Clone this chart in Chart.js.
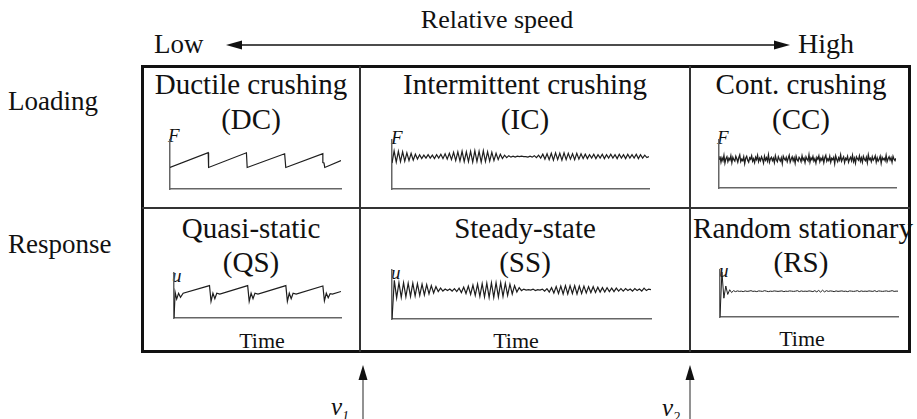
<!DOCTYPE html>
<html>
<head>
<meta charset="utf-8">
<title>Ice-induced vibration regimes</title>
<script src="https://cdn.jsdelivr.net/npm/chart.js@4.4.1/dist/chart.umd.min.js"></script>
<style>
  body{margin:0;background:#fff;}
  #page{position:relative;width:917px;height:419px;overflow:hidden;font-family:"Liberation Serif","Times New Roman",serif;color:#111;}
  .lbl{position:absolute;white-space:nowrap;line-height:1;}
  .c{transform:translate(-50%,-50%);}
  .m{transform:translateY(-50%);}
  .title{font-size:29px;}
  .time{font-size:22px;}
  .ax{font-style:italic;font-size:19px;}
  .box{position:absolute;left:141px;top:65px;width:770px;height:288px;border:3px solid #111;box-sizing:border-box;}
  .vl{position:absolute;top:66px;height:286px;width:2px;background:#333;}
  .hl{position:absolute;left:142px;width:768px;height:2px;background:#333;}
  canvas{position:absolute;}
  svg{position:absolute;left:0;top:0;}
</style>
</head>
<body>
<div id="page">
  <div class="lbl c" style="left:497px;top:20px;font-size:26px;">Relative speed</div>
  <div class="lbl m" style="left:154px;top:44px;font-size:27px;">Low</div>
  <div class="lbl m" style="left:798px;top:44px;font-size:28px;">High</div>
  <div class="lbl m" style="left:8px;top:101px;font-size:27px;">Loading</div>
  <div class="lbl m" style="left:8px;top:244px;font-size:27px;">Response</div>

  <div class="box"></div>
  <div class="vl" style="left:359px;"></div>
  <div class="vl" style="left:689px;"></div>
  <div class="hl" style="top:207px;"></div>

  <div class="lbl c title" style="left:251px;top:84px;">Ductile crushing</div>
  <div class="lbl c title" style="left:251px;top:119px;">(DC)</div>
  <div class="lbl c title" style="left:525px;top:84px;">Intermittent crushing</div>
  <div class="lbl c title" style="left:525px;top:119px;">(IC)</div>
  <div class="lbl c title" style="left:801px;top:84px;">Cont. crushing</div>
  <div class="lbl c title" style="left:801px;top:119px;">(CC)</div>
  <div class="lbl c title" style="left:251px;top:228px;">Quasi-static</div>
  <div class="lbl c title" style="left:251px;top:262px;">(QS)</div>
  <div class="lbl c title" style="left:525px;top:228px;">Steady-state</div>
  <div class="lbl c title" style="left:525px;top:262px;">(SS)</div>
  <div class="lbl c title" style="left:803px;top:228px;">Random stationary</div>
  <div class="lbl c title" style="left:801px;top:262px;">(RS)</div>

  <div class="lbl m ax" style="left:168px;top:135px;">F</div>
  <div class="lbl m ax" style="left:391px;top:137px;">F</div>
  <div class="lbl m ax" style="left:717px;top:137px;">F</div>
  <div class="lbl m ax" style="left:172px;top:275px;">u</div>
  <div class="lbl m ax" style="left:391px;top:272px;">u</div>
  <div class="lbl m ax" style="left:719px;top:270px;">u</div>

  <div class="lbl c time" style="left:262px;top:341px;">Time</div>
  <div class="lbl c time" style="left:516px;top:341px;">Time</div>
  <div class="lbl c time" style="left:802px;top:339px;">Time</div>

  <div class="lbl m" style="left:331px;top:409px;font-size:25px;font-style:italic;">v<sub style="font-size:14px;">1</sub></div>
  <div class="lbl m" style="left:662px;top:410px;font-size:25px;font-style:italic;">v<sub style="font-size:14px;">2</sub></div>

  <svg width="917" height="419">
    <line x1="238" y1="45" x2="778" y2="45" stroke="#111" stroke-width="1.6"/>
    <polygon points="226,45 242,40.5 242,49.5" fill="#111"/>
    <polygon points="790,45 774,40.5 774,49.5" fill="#111"/>
    <line x1="363" y1="378" x2="363" y2="419" stroke="#777" stroke-width="1.6"/>
    <polygon points="363,365 358.5,380 367.5,380" fill="#111"/>
    <line x1="690" y1="378" x2="690" y2="419" stroke="#777" stroke-width="1.6"/>
    <polygon points="690,365 685.5,380 694.5,380" fill="#111"/>
  </svg>

  <canvas id="dc"></canvas>
  <canvas id="ic"></canvas>
  <canvas id="cc"></canvas>
  <canvas id="qs"></canvas>
  <canvas id="ss"></canvas>
  <canvas id="rs"></canvas>
</div>

<script>
// ---- values (time in cycles / samples, amplitude as fraction of axis height) ----

// Ductile crushing: sawtooth force
const dcTime  = [0, 1.0, 1.01, 2.0, 2.02, 3.0, 3.03, 4.0, 4.0, 4.03, 4.05, 4.475];
const dcForce = [0.44, 0.74, 0.44, 0.74, 0.44, 0.72, 0.44, 0.72, 0.54, 0.53, 0.44, 0.58];

// Quasi-static: displacement follows the sawtooth, ringing after each drop
const qsTime = [0, 0.03, 0.07, 0.12, 0.17, 0.24, 0.93, 0.97, 1.02, 1.07, 1.12, 1.2,
  1.93, 1.97, 2.02, 2.07, 2.12, 2.2, 2.93, 2.97, 3.02, 3.07, 3.12, 3.2,
  3.9, 3.94, 3.99, 4.04, 4.09, 4.15, 4.375];
const qsDisp = [0, 0.57, 0.42, 0.55, 0.46, 0.55, 0.72, 0.37, 0.55, 0.43, 0.55, 0.53,
  0.72, 0.37, 0.55, 0.43, 0.55, 0.53, 0.72, 0.37, 0.55, 0.43, 0.55, 0.53,
  0.71, 0.38, 0.55, 0.45, 0.54, 0.53, 0.59];

// Intermittent crushing: one sample per half period
const icForce = [0.53,
  0.78,0.55, 0.77,0.56, 0.76,0.57, 0.74,0.58, 0.73,0.59,
  0.71,0.61, 0.70,0.62, 0.69,0.63, 0.70,0.63, 0.69,0.62,
  0.70,0.63, 0.71,0.62, 0.72,0.61, 0.73,0.60, 0.75,0.58,
  0.76,0.57, 0.77,0.56, 0.76,0.56, 0.77,0.55, 0.78,0.56,
  0.77,0.55, 0.78,0.56, 0.76,0.57, 0.75,0.58, 0.73,0.60,
  0.71,0.62, 0.69,0.64, 0.68,0.65, 0.67,0.65, 0.67,0.66,
  0.67,0.66, 0.66,0.65, 0.67,0.65, 0.68,0.64, 0.69,0.63,
  0.71,0.61, 0.72,0.60, 0.73,0.59, 0.74,0.60, 0.73,0.59,
  0.74,0.60, 0.73,0.61, 0.72,0.60, 0.73,0.61, 0.72,0.62,
  0.71,0.62, 0.70,0.63, 0.71,0.62, 0.70,0.63, 0.71,0.62,
  0.70,0.63, 0.71,0.63, 0.70,0.62, 0.71,0.63, 0.70,0.62,
  0.71,0.63, 0.70,0.63, 0.71,0.62, 0.70,0.63, 0.69,0.64,
  0.66];

// Steady-state response
const ssDisp = [0, 0.79,
  0.43,0.74, 0.44,0.74, 0.45,0.73, 0.46,0.73, 0.47,0.72,
  0.48,0.71, 0.49,0.70, 0.51,0.68, 0.53,0.66, 0.56,0.63,
  0.57,0.61, 0.58,0.61, 0.57,0.62, 0.56,0.63, 0.54,0.65,
  0.52,0.67, 0.50,0.69, 0.48,0.71, 0.46,0.72, 0.45,0.73,
  0.44,0.74, 0.44,0.74, 0.45,0.74, 0.46,0.73, 0.48,0.71,
  0.51,0.68, 0.55,0.64, 0.58,0.61, 0.59,0.60, 0.59,0.61,
  0.58,0.60, 0.59,0.61, 0.57,0.62, 0.55,0.64, 0.53,0.66,
  0.52,0.67, 0.51,0.68, 0.51,0.68, 0.52,0.68, 0.51,0.67,
  0.52,0.67, 0.53,0.66, 0.54,0.66, 0.54,0.65, 0.55,0.64,
  0.55,0.64, 0.56,0.63, 0.56,0.63, 0.57,0.62, 0.57,0.62,
  0.58,0.61, 0.57,0.62, 0.58,0.61, 0.57,0.63, 0.58,0.61,
  0.60];

// Continuous crushing: broadband force
const ccForce = [
  0.60,0.66,0.54,0.63,0.57,0.68,0.52,0.61,0.65,0.55,
  0.62,0.58,0.67,0.53,0.64,0.59,0.56,0.66,0.61,0.54,
  0.63,0.69,0.55,0.60,0.57,0.65,0.51,0.62,0.66,0.58,
  0.54,0.63,0.60,0.67,0.56,0.61,0.53,0.64,0.59,0.68,
  0.55,0.62,0.57,0.65,0.60,0.52,0.66,0.58,0.63,0.56,
  0.69,0.54,0.61,0.64,0.57,0.62,0.53,0.67,0.59,0.55,
  0.65,0.60,0.56,0.63,0.51,0.66,0.61,0.58,0.64,0.55,
  0.62,0.68,0.54,0.60,0.65,0.57,0.63,0.52,0.66,0.59,
  0.56,0.64,0.61,0.55,0.67,0.58,0.62,0.53,0.65,0.60,
  0.57,0.69,0.54,0.63,0.59,0.66,0.56,0.61,0.52,0.64,
  0.60,0.67,0.55,0.62,0.58,0.65,0.53,0.63,0.68,0.56,
  0.61,0.57,0.66,0.54,0.62,0.59,0.64,0.51,0.67,0.60,
  0.55,0.63,0.58,0.69,0.56,0.61,0.65,0.53,0.62,0.59,
  0.66,0.54,0.60,0.64,0.57,0.68,0.55,0.62,0.52,0.65,
  0.61,0.58,0.67,0.56,0.63,0.54,0.66,0.60,0.57,0.64,
  0.53,0.69,0.59,0.62,0.55,0.65,0.58,0.61,0.67,0.54,
  0.63,0.56,0.60,0.66,0.52,0.64,0.59,0.62,0.57,0.68,
  0.55,0.61,0.65,0.58,0.63,0.54,0.66,0.60,0.57,0.62];

// Random stationary response
const rsDisp = [0, 0.96, 0.40, 0.66, 0.48, 0.58, 0.52, 0.56, 0.54, 0.555, 0.545, 0.55,
  0.54, 0.555, 0.545, 0.55, 0.56, 0.545, 0.55, 0.54, 0.555, 0.55, 0.545, 0.56,
  0.55, 0.54, 0.55, 0.545, 0.555, 0.55, 0.545, 0.55, 0.555, 0.54, 0.55, 0.545,
  0.555, 0.55, 0.545, 0.55, 0.56, 0.54, 0.555, 0.545, 0.55, 0.545, 0.555, 0.55,
  0.54, 0.56, 0.535, 0.565, 0.53, 0.57, 0.535, 0.56, 0.545, 0.555, 0.55, 0.54,
  0.555, 0.545, 0.55, 0.555, 0.545, 0.55, 0.54, 0.555, 0.55, 0.545, 0.55, 0.56,
  0.54, 0.555, 0.545, 0.55, 0.545, 0.555, 0.55, 0.545, 0.56, 0.54, 0.555, 0.55,
  0.545, 0.55, 0.555, 0.545, 0.55, 0.56, 0.545, 0.55, 0.55];

// ---- layout of the six little plots: axis origin x, axis top, axis bottom, axis end x ----
const PAD = 3;
const boxes = {
  dc: [162, 140, 197, 341],
  ic: [384, 140, 197, 649],
  cc: [711, 140, 196, 896],
  qs: [166, 273, 326, 341],
  ss: [384, 270, 327, 651],
  rs: [712, 270, 325, 898],
};

function plot(id, xs, ys, xMax, lw){
  const [x0, top, bottom, x1] = boxes[id];
  const el = document.getElementById(id);
  el.width = (x1 - x0) + PAD*2; el.height = (bottom - top) + PAD*2;
  el.style.left = (x0 - PAD) + 'px'; el.style.top = (top - PAD) + 'px';
  const pts = ys.map((y,i)=>({x: xs ? xs[i] : i, y}));
  return new Chart(el, {
    type: 'line',
    data: { datasets: [{ data: pts, borderColor:'#1e1e1e', borderWidth:lw || 1.2, pointRadius:0, tension:0, fill:false }] },
    options: {
      responsive:false, animation:false, events:[],
      layout:{ padding:PAD },
      plugins:{ legend:{display:false}, tooltip:{enabled:false} },
      scales:{
        x:{ type:'linear', min:0, max:xMax, grid:{display:false}, ticks:{display:false}, border:{color:'#666', width:1.5} },
        y:{ type:'linear', min:0, max:1, grid:{display:false}, ticks:{display:false}, border:{color:'#666', width:1.5} }
      }
    }
  });
}

plot('dc', dcTime, dcForce, 4.475);
plot('ic', null, icForce, icForce.length - 1);
plot('cc', null, ccForce, ccForce.length - 1, 1.3);
plot('qs', qsTime, qsDisp, 4.375);
plot('ss', null, ssDisp, ssDisp.length - 1);
plot('rs', null, rsDisp, rsDisp.length - 1, 1);
</script>
</body>
</html>
